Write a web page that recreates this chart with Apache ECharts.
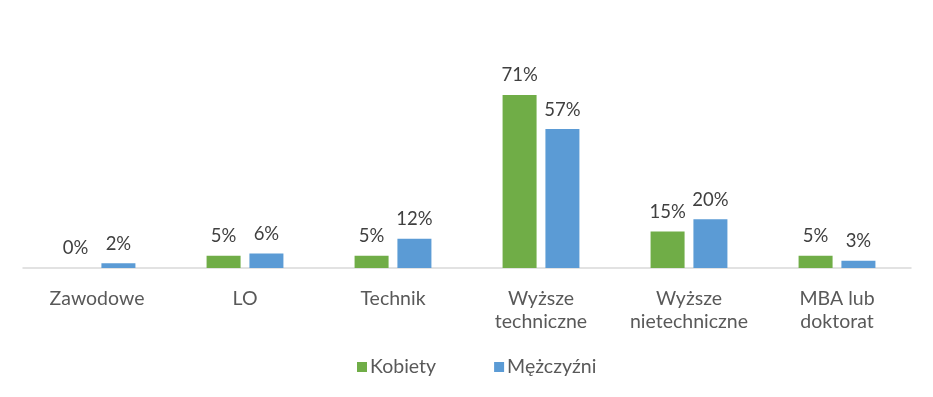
<!DOCTYPE html>
<html>
<head>
<meta charset="utf-8">
<script src="https://cdn.jsdelivr.net/npm/echarts@6/dist/echarts.min.js"></script>
<style>
  html, body { margin: 0; padding: 0; background: #fff; }
  #chart { width: 933px; height: 397px; }
</style>
</head>
<body>
<div id="chart"></div>
<script>
// kategorie wykształcenia
const categories = ['Zawodowe', 'LO', 'Technik', 'Wyższe\ntechniczne', 'Wyższe\nnietechniczne', 'MBA lub\ndoktorat']
const kobiety = [0, 5, 5, 71, 15, 5]
const mezczyzni = [2, 6, 12, 57, 20, 3]
const seriesNames = ['Kobiety', 'Mężczyźni']

const font = 'Lato, "Noto Sans", sans-serif'
const chart = echarts.init(document.getElementById('chart'), null, { renderer: 'canvas' })

const labelStyle = {
  show: true,
  position: 'top',
  distance: 10,
  formatter: '{c}%',
  color: '#404040',
  fontSize: 18.5,
  fontFamily: font
}

chart.setOption({
  animation: false,
  grid: { left: 23, right: 22, top: 73, bottom: 129 },
  legend: {
    bottom: 15,
    left: 352,
    itemWidth: 10,
    itemHeight: 10,
    itemGap: 58,
    icon: 'rect',
    textStyle: { color: '#595959', fontSize: 19.5, fontFamily: font, padding: [0, 0, 0, -2] },
    data: seriesNames
  },
  xAxis: {
    type: 'category',
    data: categories,
    axisTick: { show: false },
    axisLine: { lineStyle: { color: '#D9D9D9', width: 1.5 } },
    axisLabel: {
      color: '#595959',
      fontSize: 19.5,
      fontFamily: font,
      lineHeight: 23,
      margin: 19,
      interval: 0
    }
  },
  yAxis: {
    type: 'value',
    min: 0,
    max: 80,
    show: false,
    splitLine: { show: false }
  },
  series: [
    {
      name: seriesNames[0],
      type: 'bar',
      data: kobiety,
      barWidth: 34,
      barGap: '26%',
      itemStyle: { color: '#70AD47' },
      label: labelStyle
    },
    {
      name: seriesNames[1],
      type: 'bar',
      data: mezczyzni,
      barWidth: 34,
      barGap: '26%',
      itemStyle: { color: '#5B9BD5' },
      label: labelStyle
    }
  ]
})
</script>
</body>
</html>
